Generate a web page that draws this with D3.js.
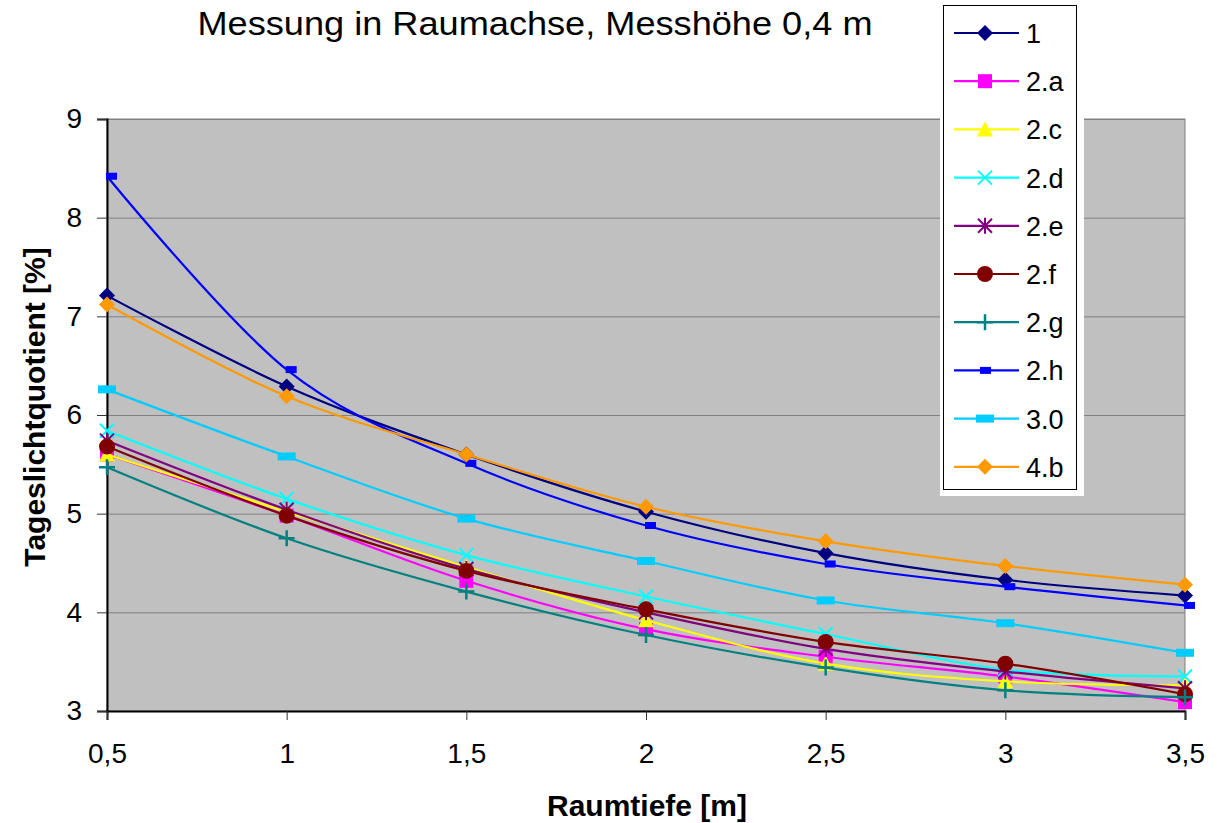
<!DOCTYPE html>
<html lang="de">
  <head>
    <meta charset="utf-8"/>
    <script src="https://d3js.org/d3.v7.min.js"></script>
    <title>Messung in Raumachse</title>
    <style>
      body { margin: 0; background: #fff; }
      text { font-family: "Liberation Sans", Arial, sans-serif; fill: #000; }
    </style>
  </head>
  <body>
    <svg id="svg_main"></svg>
    <script>
      const width = 1227;
      const height = 823;

      // data
      const depths = [0.5, 1, 1.5, 2, 2.5, 3, 3.5];
      const seriesNames = ["1", "2.a", "2.c", "2.d", "2.e", "2.f", "2.g", "2.h", "3.0", "4.b"];
      const s1  = [7.21, 6.29, 5.60, 5.02, 4.60, 4.33, 4.17];
      const s2a = [5.60, 4.98, 4.32, 3.83, 3.55, 3.35, 3.09];
      const s2c = [5.60, 5.02, 4.46, 3.92, 3.48, 3.30, 3.26];
      const s2d = [5.84, 5.15, 4.58, 4.16, 3.78, 3.42, 3.35];
      const s2e = [5.74, 5.04, 4.44, 4.00, 3.63, 3.40, 3.23];
      const s2f = [5.68, 4.98, 4.42, 4.03, 3.70, 3.48, 3.17];
      const s2g = [5.47, 4.75, 4.21, 3.77, 3.44, 3.21, 3.14];
      const s2h = [8.42, 6.46, 5.51, 4.88, 4.49, 4.26, 4.07];
      const s30 = [6.26, 5.58, 4.95, 4.52, 4.12, 3.89, 3.59];
      const s4b = [7.12, 6.19, 5.60, 5.07, 4.72, 4.47, 4.28];
      const seriesValues = [s1, s2a, s2c, s2d, s2e, s2f, s2g, s2h, s30, s4b];
      const seriesColors = ["#000080", "#ff00ff", "#ffff00", "#00ffff", "#800080",
                            "#800000", "#008080", "#0000ff", "#00ccff", "#ff9900"];
      const seriesMarkers = ["diamond", "square", "triangle", "x", "star",
                             "circle", "plus", "smallrect", "dash", "diamond"];
      const yTicks = [3, 4, 5, 6, 7, 8, 9];

      const plotLeft = 107, plotRight = 1185, plotTop = 119, plotBottom = 711;

      let xScale = d3.scaleLinear().domain([0.5, 3.5]).range([plotLeft, plotRight]);
      let yScale = d3.scaleLinear().domain([3, 9]).range([plotBottom, plotTop]);
      const fmt = d => String(d).replace(".", ",");

      let svg = d3.select("#svg_main")
          .attr("width", width)
          .attr("height", height);

      // plot area
      svg.append("rect")
          .attr("x", plotLeft).attr("y", plotTop)
          .attr("width", plotRight - plotLeft).attr("height", plotBottom - plotTop)
          .attr("fill", "#c0c0c0")
          .attr("stroke", "#808080")
          .attr("stroke-width", 1);

      svg.append("g").selectAll("line")
          .data(yTicks.slice(1))
          .join("line")
          .attr("x1", plotLeft).attr("x2", plotRight)
          .attr("y1", d => yScale(d) + 0.5).attr("y2", d => yScale(d) + 0.5)
          .attr("stroke", "#808080")
          .attr("stroke-width", 1);

      // axes
      let yAxis_g = svg.append("g")
          .attr("transform", "translate(" + plotLeft + ",0)")
          .call(d3.axisLeft(yScale).tickValues(yTicks).tickSize(10).tickPadding(15).tickFormat(fmt));
      let xAxis_g = svg.append("g")
          .attr("transform", "translate(0," + plotBottom + ")")
          .call(d3.axisBottom(xScale).tickValues(depths).tickSize(9).tickPadding(23).tickFormat(fmt));

      [yAxis_g, xAxis_g].forEach(function(g) {
        g.select(".domain").attr("stroke", "#000").attr("stroke-width", 2);
        g.selectAll(".tick line").attr("stroke", "#333");
        g.selectAll(".tick text")
          .attr("font-family", "Liberation Sans, Arial, sans-serif")
          .attr("font-size", 28)
          .attr("fill", "#000");
      });

      // markers
      function drawMarker(g, type, color, x, y) {
        if (type == "diamond") {
          g.append("path").attr("d", "M" + x + "," + (y - 8) + "L" + (x + 8) + "," + y + "L" + x + "," + (y + 8) + "L" + (x - 8) + "," + y + "Z")
            .attr("fill", color);
        } else if (type == "square") {
          g.append("rect").attr("x", x - 7).attr("y", y - 7).attr("width", 14).attr("height", 14).attr("fill", color);
        } else if (type == "triangle") {
          g.append("path").attr("d", "M" + x + "," + (y - 8) + "L" + (x + 8) + "," + (y + 7) + "L" + (x - 8) + "," + (y + 7) + "Z")
            .attr("fill", color);
        } else if (type == "circle") {
          g.append("circle").attr("cx", x).attr("cy", y).attr("r", 8).attr("fill", color);
        } else if (type == "x") {
          g.append("path").attr("d", "M" + (x - 7) + "," + (y - 7) + "L" + (x + 7) + "," + (y + 7) + "M" + (x + 7) + "," + (y - 7) + "L" + (x - 7) + "," + (y + 7))
            .attr("stroke", color).attr("stroke-width", 2).attr("fill", "none");
        } else if (type == "star") {
          g.append("path").attr("d", "M" + (x - 7) + "," + (y - 7) + "L" + (x + 7) + "," + (y + 7) + "M" + (x + 7) + "," + (y - 7) + "L" + (x - 7) + "," + (y + 7) + "M" + x + "," + (y - 8) + "L" + x + "," + (y + 8))
            .attr("stroke", color).attr("stroke-width", 2).attr("fill", "none");
        } else if (type == "plus") {
          g.append("path").attr("d", "M" + (x - 8) + "," + y + "L" + (x + 8) + "," + y + "M" + x + "," + (y - 8) + "L" + x + "," + (y + 8))
            .attr("stroke", color).attr("stroke-width", 2.5).attr("fill", "none");
        } else if (type == "smallrect") {
          g.append("rect").attr("x", x - 1).attr("y", y - 3.5).attr("width", 11).attr("height", 7).attr("fill", color);
        } else if (type == "dash") {
          g.append("rect").attr("x", x - 9).attr("y", y - 4).attr("width", 18).attr("height", 8).attr("fill", color);
        }
      }

      let line = d3.line()
          .x(function(d, i) { return xScale(depths[i]); })
          .y(function(d) { return yScale(d); })
          .curve(d3.curveCardinal.tension(0));

      for (let i = 0; i < seriesValues.length; i++) {
        let g = svg.append("g");
        g.append("path")
            .datum(seriesValues[i])
            .attr("fill", "none")
            .attr("stroke", seriesColors[i])
            .attr("stroke-width", 2.2)
            .attr("d", line);
        seriesValues[i].forEach(function(v, j) {
          drawMarker(g, seriesMarkers[i], seriesColors[i], xScale(depths[j]), yScale(v));
        });
      }

      // legend
      let legend = svg.append("g");
      legend.append("rect")
          .attr("x", 940).attr("y", 0).attr("width", 144).attr("height", 496)
          .attr("fill", "#fff");
      legend.append("rect")
          .attr("x", 943.5).attr("y", 5.5).attr("width", 133).attr("height", 484)
          .attr("fill", "#fff").attr("stroke", "#000").attr("stroke-width", 1);
      seriesNames.forEach(function(name, i) {
        let y = 33 + i * 48.2;
        legend.append("line")
            .attr("x1", 954).attr("x2", 1019).attr("y1", y).attr("y2", y)
            .attr("stroke", seriesColors[i]).attr("stroke-width", 2.2);
        drawMarker(legend, seriesMarkers[i], seriesColors[i], i == 7 ? 981 : 985, y);
        legend.append("text")
            .attr("x", 1026).attr("y", y + 10)
            .attr("font-size", 27)
            .text(name);
      });

      // titles
      svg.append("text")
          .attr("x", 535).attr("y", 35)
          .attr("text-anchor", "middle")
          .attr("font-size", 33)
          .attr("textLength", 675)
          .attr("lengthAdjust", "spacingAndGlyphs")
          .text("Messung in Raumachse, Messhöhe 0,4 m");

      svg.append("text")
          .attr("x", 647).attr("y", 816)
          .attr("text-anchor", "middle")
          .attr("font-size", 30)
          .attr("font-weight", "bold")
          .text("Raumtiefe [m]");

      svg.append("text")
          .attr("transform", "translate(45," + 407 + ") rotate(-90)")
          .attr("text-anchor", "middle")
          .attr("font-size", 30)
          .attr("font-weight", "bold")
          .text("Tageslichtquotient [%]");
    </script>
  </body>
</html>
